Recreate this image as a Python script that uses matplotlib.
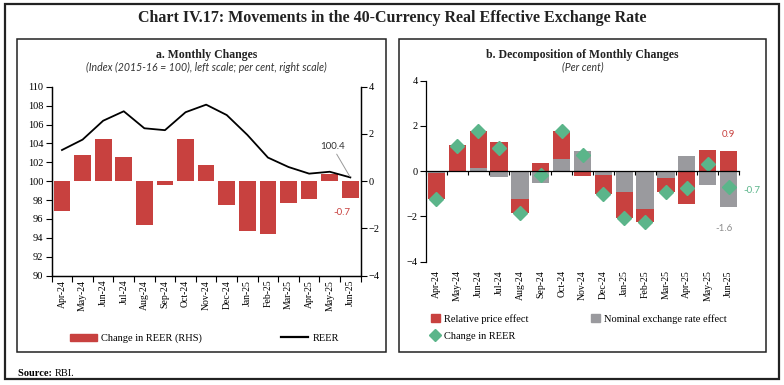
import numpy as np
import matplotlib.pyplot as plt
from matplotlib.patches import Rectangle, Patch
from matplotlib.lines import Line2D

plt.rcParams["font.family"] = ["Liberation Serif", "DejaVu Serif"]

# data
months = ["Apr-24", "May-24", "Jun-24", "Jul-24", "Aug-24", "Sep-24", "Oct-24", "Nov-24",
          "Dec-24", "Jan-25", "Feb-25", "Mar-25", "Apr-25", "May-25", "Jun-25"]
reer = [103.3, 104.4, 106.4, 107.4, 105.6, 105.4, 107.3, 108.1,
        107.0, 104.9, 102.5, 101.5, 100.8, 101.0, 100.4]
reer_change = [-1.25, 1.1, 1.79, 1.02, -1.84, -0.16, 1.79, 0.7,
               -1.0, -2.09, -2.24, -0.94, -0.74, 0.3, -0.72]
price_effect = [-1.15, 1.15, 1.63, 1.27, -0.59, 0.34, 1.26, -0.2,
                -0.82, -1.17, -0.59, -0.62, -1.43, 0.92, 0.88]
nominal_effect = [-0.1, -0.05, 0.16, -0.25, -1.25, -0.5, 0.53, 0.9,
                  -0.18, -0.92, -1.65, -0.32, 0.69, -0.62, -1.6]

RED = "#C8413F"
GRAY = "#9A9A9E"
GREEN = "#5BB58A"
SANS = ["Lato", "DejaVu Sans"]

x = np.arange(len(months))
edges = np.arange(len(months) + 1) - 0.5

fig = plt.figure(figsize=(7.84, 3.85), dpi=100)

# frames
fig.patches.append(Rectangle((0.006, 0.0156), 0.988, 0.974, transform=fig.transFigure,
                             fill=False, lw=1.6, ec="#222222"))
fig.patches.append(Rectangle((0.0217, 0.0857), 0.4707, 0.8122, transform=fig.transFigure,
                             fill=False, lw=1.1, ec="#222222"))
fig.patches.append(Rectangle((0.5085, 0.0857), 0.4685, 0.8122, transform=fig.transFigure,
                             fill=False, lw=1.1, ec="#222222"))

fig.text(0.5, 0.953, "Chart IV.17: Movements in the 40-Currency Real Effective Exchange Rate",
         ha="center", va="center", fontsize=11.5, fontweight="bold", color="#222222")

# ---------------- panel a ----------------
ax1 = fig.add_axes([0.0659, 0.2839, 0.3941, 0.4909])
ax2 = ax1.twinx()
ax1.set_zorder(ax2.get_zorder() + 1)
ax1.patch.set_visible(False)

ax2.bar(x, reer_change, width=0.81, color=RED)
ax1.plot(x, reer, color="black", lw=1.3)

ax1.set_xlim(-0.5, len(months) - 0.5)
ax1.set_ylim(90, 110)
ax1.set_yticks(np.arange(90, 111, 2))
ax2.set_ylim(-4, 4)
ax2.set_yticks(np.arange(-4, 5, 2))

ax1.set_xticks(edges)
ax1.set_xticklabels([])
ax1.set_xticks(x, minor=True)
ax1.set_xticklabels(months, minor=True, rotation=90)
ax1.tick_params(axis="x", which="major", length=4, direction="out")
ax1.tick_params(axis="x", which="minor", length=0, pad=3, labelsize=7)
ax1.tick_params(axis="y", length=4, labelsize=7.5, pad=2)
ax2.tick_params(axis="y", length=4, labelsize=7.5, pad=2)
ax1.spines["top"].set_visible(False)
ax2.spines["top"].set_visible(False)
for sp in ["left", "right", "bottom"]:
    ax2.spines[sp].set_linewidth(0.9)
    ax1.spines[sp].set_linewidth(0.9)

ax1.annotate("100.4", xy=(x[-1], reer[-1]), xytext=(-4, 22), textcoords="offset points",
             ha="right", va="center", fontsize=7, family=SANS, color="#333333",
             arrowprops=dict(arrowstyle="-", color="#999999", lw=0.7, shrinkA=0, shrinkB=1))
ax2.annotate("-0.7", xy=(x[-1], reer_change[-1]), xytext=(-6, -10), textcoords="offset points",
             ha="center", va="center", fontsize=7, family=SANS, color=RED)

ax1.text(0.5, 1.169, "a. Monthly Changes", transform=ax1.transAxes, ha="center",
         va="center", fontsize=8.5, fontweight="bold", color="#222222")
ax1.text(0.5, 1.103, "(Index (2015-16 = 100), left scale; per cent, right scale)",
         transform=ax1.transAxes, ha="center", va="center", fontsize=7.6,
         style="italic", family=SANS, color="#333333")

leg_a = [Patch(color=RED), Line2D([], [], color="black", lw=1.6)]
fig.legend(leg_a, ["Change in REER (RHS)", "REER"], loc="center left",
           bbox_to_anchor=(0.089, 0.121), ncol=2, frameon=False, fontsize=7.5,
           handlelength=2.6, handletextpad=0.4, columnspacing=7.6,
           borderpad=0, borderaxespad=0)

# ---------------- panel b ----------------
bx = fig.add_axes([0.5434, 0.3203, 0.3992, 0.4701])
nominal = np.array(nominal_effect)
price = np.array(price_effect)
price_bottom = np.where(np.sign(price) == np.sign(nominal), nominal, 0)
bx.bar(x, nominal, width=0.83, color=GRAY)
bx.bar(x, price, bottom=price_bottom, width=0.83, color=RED)
bx.plot(x, reer_change, linestyle="none", marker="D", ms=7.5, color=GREEN, mec=GREEN)

bx.set_xlim(-0.5, len(months) - 0.5)
bx.set_ylim(-4, 4)
bx.set_yticks(np.arange(-4, 5, 2))
bx.spines["top"].set_visible(False)
bx.spines["right"].set_visible(False)
bx.spines["bottom"].set_position(("data", 0))
bx.spines["bottom"].set_linewidth(0.9)
bx.spines["left"].set_linewidth(0.9)
bx.set_xticks(edges)
bx.set_xticklabels([])
bx.tick_params(axis="x", length=3, direction="out")
bx.tick_params(axis="y", length=4, labelsize=7.5, pad=2)

sec = bx.secondary_xaxis("bottom")
sec.set_xticks(x, months, rotation=90)
sec.tick_params(length=0, pad=6, labelsize=7)
sec.spines["bottom"].set_visible(False)

bx.annotate("0.9", xy=(x[-1], price[-1]), xytext=(0, 12), textcoords="offset points",
            ha="center", va="center", fontsize=7, family=SANS, color=RED)
bx.annotate("-1.6", xy=(x[-1], nominal[-1]), xytext=(-3, -15), textcoords="offset points",
            ha="center", va="center", fontsize=7, family=SANS, color="#8c8c8c")
bx.annotate("-0.7", xy=(x[-1], reer_change[-1]), xytext=(17, -2), textcoords="offset points",
            ha="center", va="center", fontsize=7, family=SANS, color=GREEN)

bx.text(0.5, 1.144, "b. Decomposition of Monthly Changes", transform=bx.transAxes,
        ha="center", va="center", fontsize=8.5, fontweight="bold", color="#222222")
bx.text(0.5, 1.076, "(Per cent)", transform=bx.transAxes, ha="center", va="center",
        fontsize=7.6, style="italic", family=SANS, color="#333333")

leg_b = [Patch(color=RED),
         Line2D([], [], linestyle="none", marker="D", ms=6, color=GREEN),
         Patch(color=GRAY)]
fig.legend(leg_b, ["Relative price effect", "Change in REER", "Nominal exchange rate effect"],
           loc="upper left", bbox_to_anchor=(0.550, 0.184), ncol=2, frameon=False,
           fontsize=7.5, handlelength=0.8, handleheight=0.8, handletextpad=0.45,
           columnspacing=6.0, labelspacing=0.75, borderpad=0, borderaxespad=0)

# source note
src = fig.text(0.023, 0.030, "Source: ", fontsize=7.5, fontweight="bold", va="center")
plt.annotate("RBI.", xy=(1, 0.5), xycoords=src, va="center", fontsize=7.5)

fig.savefig("out.png", dpi=100)
